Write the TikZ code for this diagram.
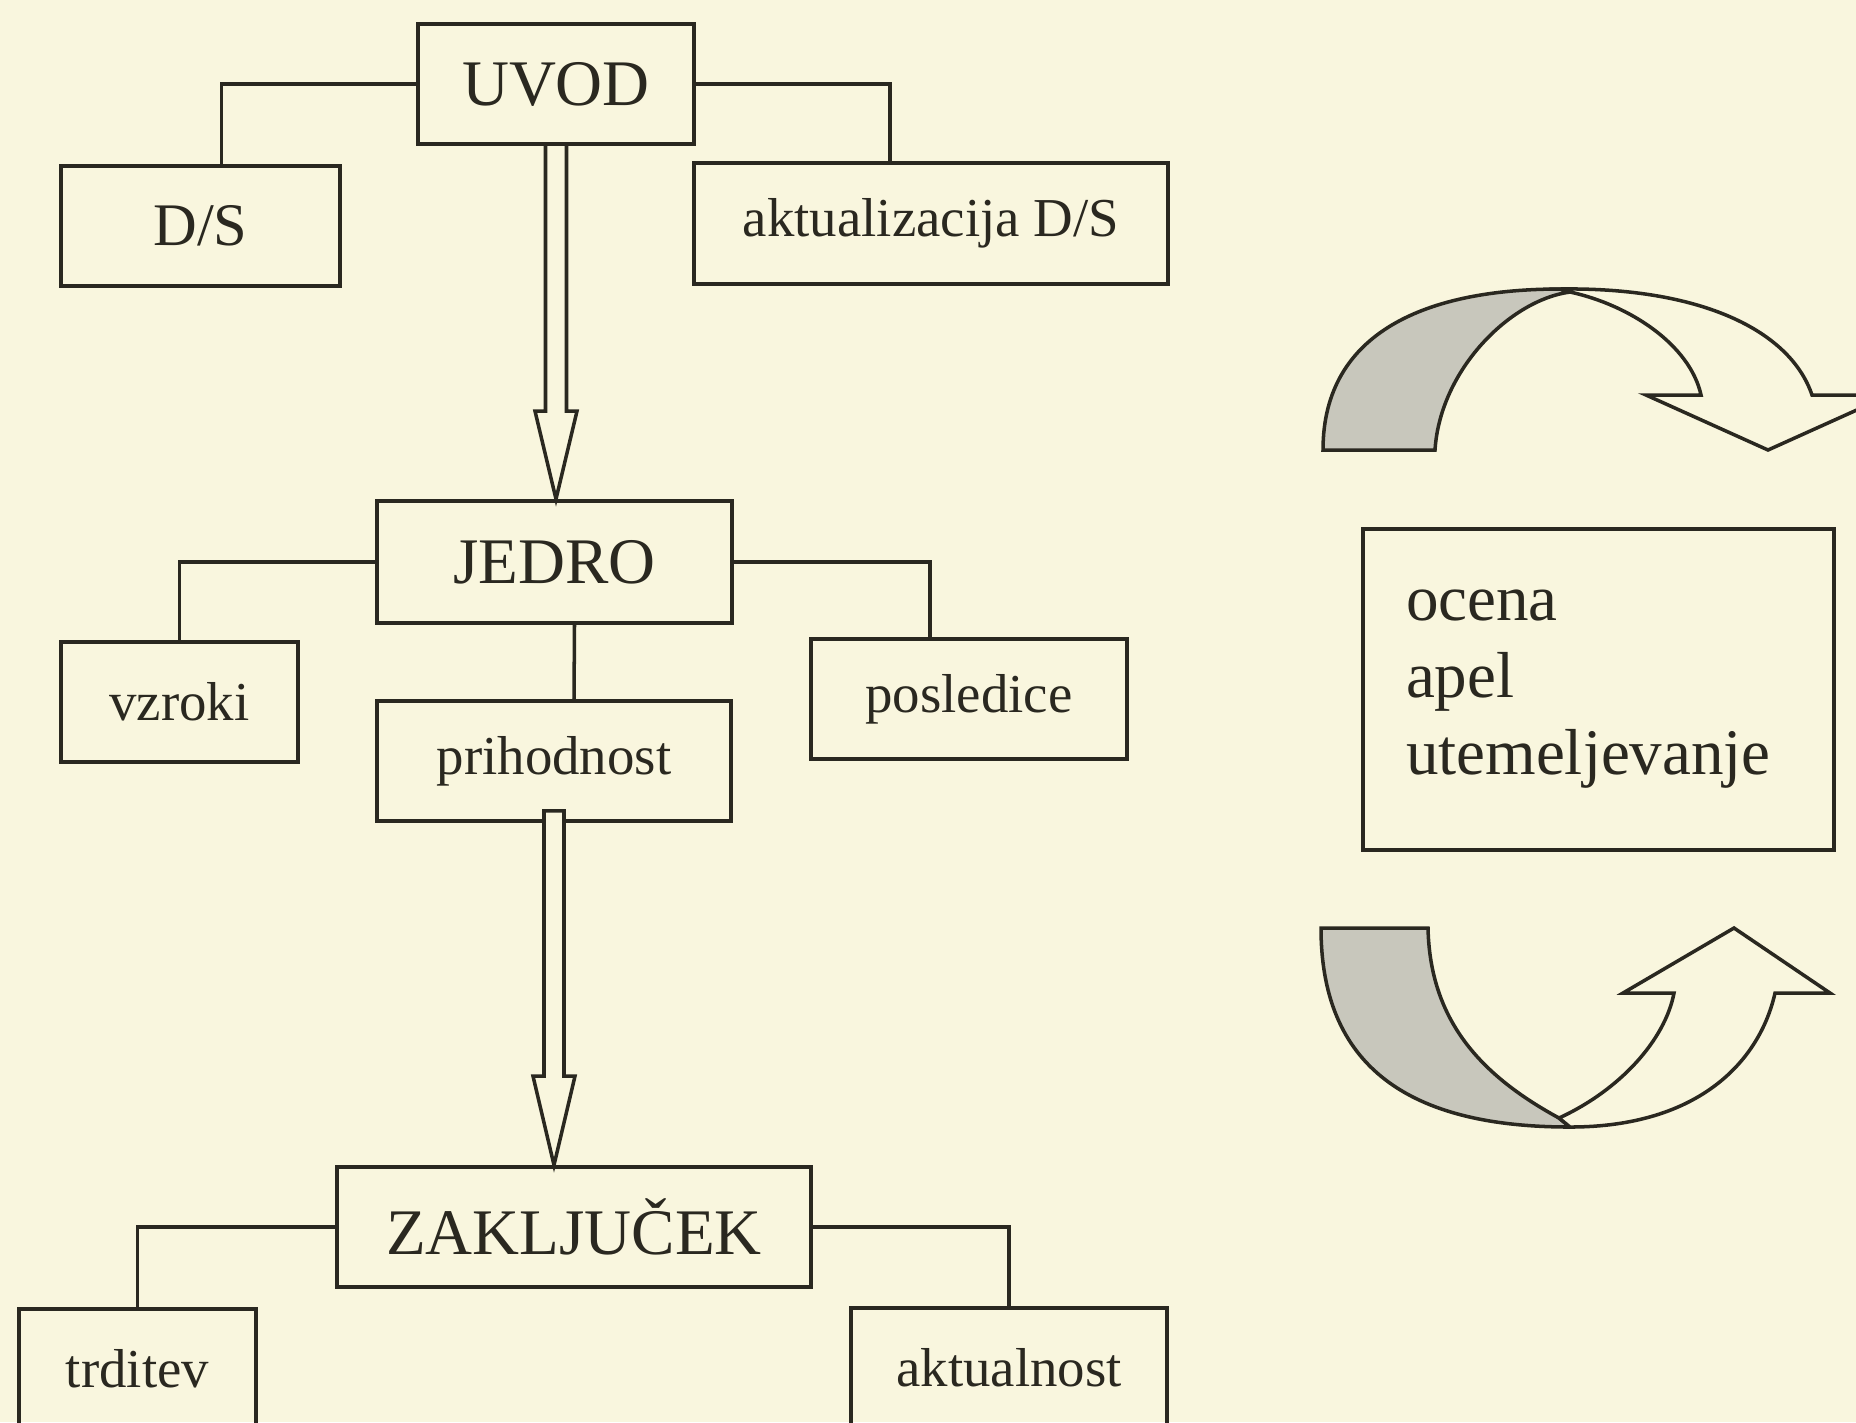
\documentclass[tikz,border=0pt]{standalone}
\usepackage{fontspec}
\setmainfont{Liberation Serif}
\usepackage{tikz}
\usetikzlibrary{calc}
\definecolor{paper}{RGB}{249,246,222}
\definecolor{ink}{RGB}{42,40,32}
\definecolor{shade}{RGB}{200,199,188}
\newcommand{\headsz}{\fontsize{18.5}{22}\selectfont}
\newcommand{\itemsz}{\fontsize{15.6}{19}\selectfont}
\newcommand{\dssz}{\fontsize{17.2}{20}\selectfont}
\newcommand{\listsz}{\fontsize{18.5}{21.9}\selectfont}

\begin{document}
\begin{tikzpicture}[
  box/.style={draw=ink,line width=1.1pt,text=ink,inner sep=0pt,minimum height=1.2cm},
  link/.style={draw=ink,line width=1pt},
  hollow/.style={draw=ink,line width=1pt,line join=miter},
  ribbon/.style={draw=ink,line width=1pt,line join=miter}]
\useasboundingbox (0,0) rectangle (18.56,-14.22);
\fill[paper] (0,0) rectangle (18.56,-14.22);
\clip (0,0) rectangle (18.56,-14.22);

% levi del: zgradba
\node[box,minimum width=2.76cm,font=\headsz] (uvod) at (5.56,-0.84) {UVOD};
\node[box,minimum width=2.79cm,font=\dssz] (ds) at (2.005,-2.26) {D/S};
\node[box,minimum width=4.74cm,minimum height=1.21cm,font=\itemsz] (akt) at (9.31,-2.235) {aktualizacija D/S};
\node[box,minimum width=3.55cm,minimum height=1.22cm,font=\headsz] (jedro) at (5.545,-5.62) {JEDRO};
\node[box,minimum width=2.37cm,font=\itemsz] (vzroki) at (1.795,-7.02) {vzroki};
\node[box,minimum width=3.16cm,font=\itemsz] (posledice) at (9.69,-6.99) {posledice};
\node[box,minimum width=3.54cm,font=\itemsz] (prihodnost) at (5.54,-7.61) {prihodnost};
\node[box,minimum width=4.74cm,font=\headsz] (zak) at (5.74,-12.27) {ZAKLJUČEK};
\node[box,minimum width=2.37cm,font=\itemsz] (trditev) at (1.375,-13.69) {trditev};
\node[box,minimum width=3.16cm,font=\itemsz] (aktualnost) at (10.09,-13.68) {aktualnost};

\draw[link] (uvod.west) -| ([xshift=2.1mm]ds.north);
\draw[link] (uvod.east) -| ([xshift=-4.1mm]akt.north);
\draw[link] (jedro.west) -| (vzroki.north);
\draw[link] (jedro.east) -| ([xshift=-3.9mm]posledice.north);
\draw[link] ([xshift=2mm]jedro.south) -- ([xshift=2mm]prihodnost.north);
\draw[link] (zak.west) -| (trditev.north);
\draw[link] (zak.east) -| (aktualnost.north);

% votli puscici
\coordinate (t1) at (uvod.south |- jedro.north);
\draw[hollow] ([xshift=-1.05mm]uvod.south) -- ([xshift=-1.05mm,yshift=8.8mm]t1) -- ++(-1.05mm,0) -- (t1)
  -- ([xshift=2.1mm,yshift=8.8mm]t1) -- ++(-1.05mm,0) -- ([xshift=1.05mm]uvod.south);
\coordinate (t2) at (prihodnost.south |- zak.north);
\filldraw[hollow,fill=paper] ([xshift=-1mm,yshift=1.2mm]prihodnost.south) -- ([xshift=-1mm,yshift=8.9mm]t2) -- ++(-1.1mm,0) -- (t2)
  -- ([xshift=2.1mm,yshift=8.9mm]t2) -- ++(-1.1mm,0) -- ([xshift=1mm,yshift=1.2mm]prihodnost.south) -- cycle;

% desni del
\node[box,align=left,text width=3.85cm,inner xsep=0.43cm,minimum height=3.21cm,font=\listsz] (vloga) at (15.985,-6.895) {ocena\\apel\\utemeljevanje};

% zgornja zavita puscica
\filldraw[ribbon,fill=shade] (13.23,-4.50) .. controls (13.23,-3.30) and (14.30,-2.89) .. (15.60,-2.89) -- (15.70,-2.92)
  .. controls (15.10,-3.00) and (14.40,-3.70) .. (14.35,-4.50) -- cycle;
\filldraw[ribbon,fill=paper] (15.60,-2.89) .. controls (17.00,-2.87) and (17.90,-3.30) .. (18.12,-3.95) -- (18.90,-3.95)
  -- (17.68,-4.50) -- (16.46,-3.95) -- (17.01,-3.95) .. controls (16.90,-3.45) and (16.30,-3.05) .. (15.70,-2.92) -- cycle;

% spodnja zavita puscica
\filldraw[ribbon,fill=shade] (13.21,-9.28) .. controls (13.21,-10.75) and (14.20,-11.27) .. (15.70,-11.27) -- (15.59,-11.18)
  .. controls (14.80,-10.75) and (14.30,-10.20) .. (14.28,-9.28) -- cycle;
\filldraw[ribbon,fill=paper] (15.70,-11.27) .. controls (17.00,-11.27) and (17.60,-10.60) .. (17.75,-9.93) -- (18.30,-9.93)
  -- (17.34,-9.28) -- (16.23,-9.93) -- (16.74,-9.93) .. controls (16.65,-10.40) and (16.20,-10.90) .. (15.59,-11.18) -- cycle;
\end{tikzpicture}
\end{document}
